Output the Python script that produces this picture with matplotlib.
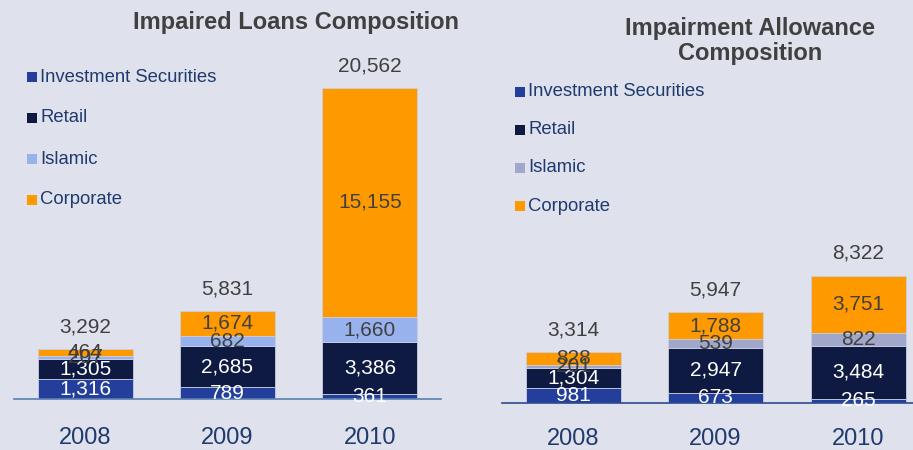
import matplotlib
matplotlib.use("Agg")
import matplotlib.pyplot as plt
from matplotlib.patches import Rectangle

plt.rcParams["font.family"] = ["Liberation Sans", "DejaVu Sans"]

# --- data -----------------------------------------------------------------
years = ["2008", "2009", "2010"]
series = ["Investment Securities", "Retail", "Islamic", "Corporate"]

loans_invest = [1316, 789, 361]
loans_retail = [1305, 2685, 3386]
loans_islamic = [207, 682, 1660]
loans_corporate = [464, 1674, 15155]
loans_total = [3292, 5831, 20562]

allow_invest = [981, 673, 265]
allow_retail = [1304, 2947, 3484]
allow_islamic = [201, 539, 822]
allow_corporate = [828, 1788, 3751]
allow_total = [3314, 5947, 8322]

# --- style ----------------------------------------------------------------
BG = "#dfe1ec"
NAVY_TEXT = "#1f3a6e"
GREY_TEXT = "#404040"
C_INVEST = "#233f9b"
C_RETAIL = "#0e1a42"
C_CORP = "#ff9900"
C_ISL_LEFT = "#98b2ee"
C_ISL_RIGHT = "#a1a7ca"
LABEL_COLORS = ["white", "white", GREY_TEXT, GREY_TEXT]

fig = plt.figure(figsize=(9.13, 4.5), dpi=100, facecolor=BG)
W, H = 913.0, 450.0


def panel(rect_px, ylim, stacks, totals, colors, title, title_y, legend_xy,
          legend_dy, axis_color, xlim, year_pad):
    x0, y_base, x1, y_top = rect_px
    ax = fig.add_axes([x0 / W, (H - y_base) / H, (x1 - x0) / W,
                       (y_base - y_top) / H])
    ax.set_facecolor(BG)
    ax.set_xlim(*xlim)
    ax.set_ylim(*ylim)
    pos = range(len(years))
    bottom = [0] * len(years)
    for vals, col, tcol in zip(stacks, colors, LABEL_COLORS):
        ax.bar(pos, vals, bottom=bottom, width=0.667, color=col,
               edgecolor="#c9cee2", linewidth=0.6, zorder=2)
        for i, v in enumerate(vals):
            ax.text(i, bottom[i] + v / 2, f"{v:,}", ha="center", va="center",
                    fontsize=15, color=tcol, zorder=4)
        bottom = [b + v for b, v in zip(bottom, vals)]
    for i, t in enumerate(totals):
        ax.annotate(f"{t:,}", (i, t), xytext=(0, 16),
                    textcoords="offset points", ha="center", va="center",
                    fontsize=15, color=GREY_TEXT)
    for s in ["top", "right", "left"]:
        ax.spines[s].set_visible(False)
    ax.spines["bottom"].set_color(axis_color)
    ax.spines["bottom"].set_linewidth(1.2)
    ax.spines["bottom"].set_zorder(3)
    ax.set_yticks([])
    ax.set_xticks(list(pos))
    ax.set_xticklabels(years, fontsize=17, color=NAVY_TEXT)
    ax.tick_params(axis="x", length=0, pad=year_pad)

    fig.text(title[1] / W, 1 - title_y / H, title[0], ha="center",
             va="center", fontsize=17, fontweight="bold", color=GREY_TEXT,
             linespacing=1.1)

    lx, ly = legend_xy
    for k, (name, col) in enumerate(zip(series, colors)):
        y = ly + k * legend_dy
        fig.patches.append(Rectangle(((lx - 5) / W, 1 - (y + 5) / H),
                                     10 / W, 10 / H, transform=fig.transFigure,
                                     facecolor=col, edgecolor="none"))
        fig.text((lx + 8) / W, 1 - y / H, name, ha="left", va="center",
                 fontsize=13.3, color=NAVY_TEXT)
    return ax


panel((14, 399, 441, 66), (0, 22000),
      [loans_invest, loans_retail, loans_islamic, loans_corporate],
      loans_total, [C_INVEST, C_RETAIL, C_ISL_LEFT, C_CORP],
      ("Impaired Loans Composition", 296), 23, (32, 77), 41,
      "#5b7fb2", (-0.5, 2.5), 20)

panel((502, 403, 913, 250), (0, 10000),
      [allow_invest, allow_retail, allow_islamic, allow_corporate],
      allow_total, [C_INVEST, C_RETAIL, C_ISL_RIGHT, C_CORP],
      ("Impairment Allowance\nComposition", 750), 41, (520, 92), 38,
      "#2c4c8c", (-0.5, 2.386), 18)

fig.savefig("out.png", dpi=100, facecolor=BG)
